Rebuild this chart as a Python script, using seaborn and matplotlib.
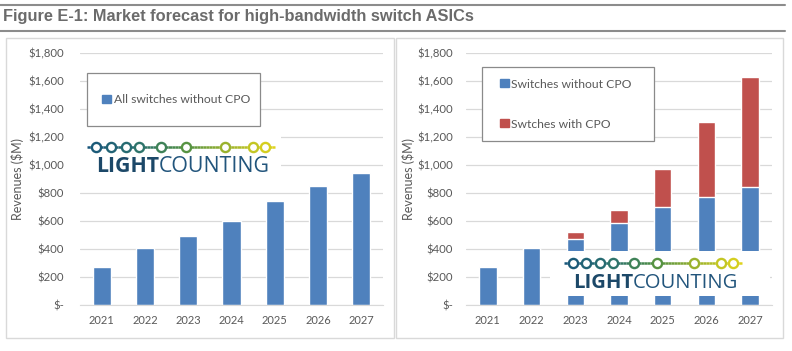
import numpy as np
import pandas as pd
import matplotlib.pyplot as plt
import seaborn as sns
from matplotlib.patches import Rectangle, Patch
from matplotlib.colors import LinearSegmentedColormap
from matplotlib.lines import Line2D

years = ['2021', '2022', '2023', '2024', '2025', '2026', '2027']
all_without_cpo = [270, 405, 490, 600, 740, 850, 945]
without_cpo = [270, 405, 475, 585, 700, 775, 845]
with_cpo = [0, 0, 45, 95, 275, 535, 785]
yticks = [0, 200, 400, 600, 800, 1000, 1200, 1400, 1600, 1800]

BLUE = '#4f81bd'
RED = '#c0504d'
GRID = '#d9d9d9'
TXT = '#595959'
W, H = 792, 351

sns.set_style('white')
plt.rcParams['font.family'] = ['Lato', 'DejaVu Sans']

fig = plt.figure(figsize=(7.92, 3.51), dpi=100)


def fbox(x0, y0, x1, y1):
    # pixel box (top-left origin) -> figure fraction rect
    return [x0 / W, 1 - y1 / H, (x1 - x0) / W, (y1 - y0) / H]


def money(v):
    return '$-' if v == 0 else '${:,}'.format(v)


def style_axes(ax, pad, label_x):
    ax.set_ylim(0, 1800)
    ax.set_yticks(yticks)
    ax.set_yticklabels([money(v) for v in yticks])
    ax.grid(axis='y', color=GRID, lw=0.9)
    ax.set_axisbelow(True)
    for s in ['top', 'right', 'left']:
        ax.spines[s].set_visible(False)
    ax.spines['bottom'].set_color(GRID)
    ax.tick_params(axis='y', length=0, pad=pad, labelsize=8.2, labelcolor=TXT)
    ax.tick_params(axis='x', length=0, pad=7, labelsize=8, labelcolor=TXT)
    ax.set_xlabel('')
    ax.set_ylabel('Revenues ($M)', fontsize=9, color=TXT)
    ax.yaxis.set_label_coords(label_x, 0.5)


# header
fig.add_artist(Line2D([0, 785 / W], [1 - 5 / H] * 2, color='#8c8c8c', lw=1.5))
fig.add_artist(Line2D([0, 785 / W], [1 - 31 / H] * 2, color='#8c8c8c', lw=1.5))
fig.text(3 / W, 1 - 17 / H, 'Figure E-1: Market forecast for high-bandwidth switch ASICs',
         family='Liberation Sans', fontweight='bold', fontsize=11.8, color='#6b6b6b',
         va='center', ha='left')

# panel frames
for (x0, x1) in [(6, 394), (396, 783)]:
    fig.patches.append(Rectangle((x0 / W, 1 - 338 / H), (x1 - x0) / W, 300 / H,
                                 transform=fig.transFigure, fill=False,
                                 edgecolor=GRID, lw=1))

# left chart
ax1 = fig.add_axes(fbox(80, 53, 383, 305))
df1 = pd.DataFrame({'year': years, 'rev': all_without_cpo})
sns.barplot(data=df1, x='year', y='rev', color=BLUE, saturation=1, width=0.42,
            errorbar=None, ax=ax1)
style_axes(ax1, 11.5, -0.185)

# right chart (stacked: totals in red, blue on top)
ax2 = fig.add_axes(fbox(466, 53, 772, 305))
df2 = pd.DataFrame({'year': years, 'without': without_cpo, 'with': with_cpo})
df2['total'] = df2['without'] + df2['with']
sns.barplot(data=df2, x='year', y='total', color=RED, saturation=1, width=0.4,
            errorbar=None, ax=ax2)
sns.barplot(data=df2, x='year', y='without', color=BLUE, saturation=1, width=0.4,
            errorbar=None, ax=ax2)
style_axes(ax2, 9.5, -0.166)


# legends
def legend_box(x0, y0, x1, y1):
    fig.patches.append(Rectangle((x0 / W, 1 - y1 / H), (x1 - x0) / W, (y1 - y0) / H,
                                 transform=fig.transFigure, facecolor='white',
                                 edgecolor='#8a8a8a', lw=0.9, zorder=5))


legend_box(87, 73, 260, 126)
fig.legend(handles=[Patch(color=BLUE, label='All switches without CPO')],
           loc='center', bbox_to_anchor=(176 / W, 1 - 100 / H),
           frameon=False, fontsize=8.7, handlelength=0.75, handleheight=0.6,
           handletextpad=0.2, labelcolor=TXT).set_zorder(6)

legend_box(482, 67, 654, 141)
fig.legend(handles=[Patch(color=BLUE, label='Switches without CPO'),
                    Patch(color=RED, label='Swtches with CPO')],
           loc='center', bbox_to_anchor=(566 / W, 1 - 104 / H),
           frameon=False, fontsize=8.7, handlelength=0.75, handleheight=0.6,
           handletextpad=0.2, labelspacing=2.4, labelcolor=TXT).set_zorder(6)

# logo
logo_cmap = LinearSegmentedColormap.from_list(
    'lc', ['#17557a', '#2a7070', '#4f8f45', '#9fb52c', '#e3d51c'])
circle_pos = [0.05, 0.125, 0.205, 0.278, 0.392, 0.525, 0.733, 0.882, 0.949]


def draw_logo(box, x_start, y_line, length, fsize):
    lx = fig.add_axes(fbox(*box))
    lx.set_xlim(box[0], box[2])
    lx.set_ylim(box[3], box[1])
    lx.set_xticks([])
    lx.set_yticks([])
    for s in lx.spines.values():
        s.set_visible(False)
    lx.set_facecolor('white')
    lx.set_zorder(4)
    n = 60
    xs = np.linspace(x_start, x_start + length, n + 1)
    for i in range(n):
        lx.plot(xs[i:i + 2], [y_line, y_line], color=logo_cmap(i / n), lw=1.8,
                solid_capstyle='butt')
    for f in circle_pos:
        lx.plot(x_start + f * length, y_line, 'o', ms=6.6, mfc='white',
                mec=logo_cmap(f), mew=1.7)
    t = lx.text(x_start + 9, y_line + 25, 'LIGHT', family='Open Sans',
                fontweight='bold', fontsize=fsize, color='#1c4868', va='baseline')
    lx.annotate('COUNTING', xy=(1, 0), xycoords=t, va='bottom', ha='left',
                family='Open Sans', fontsize=fsize, color='#22557c')


draw_logo((80, 135, 281, 178), 87, 147, 188, 15.4)
draw_logo((550, 251, 770, 296), 564, 263, 178, 14.6)

plt.savefig('out.png', dpi=100)
